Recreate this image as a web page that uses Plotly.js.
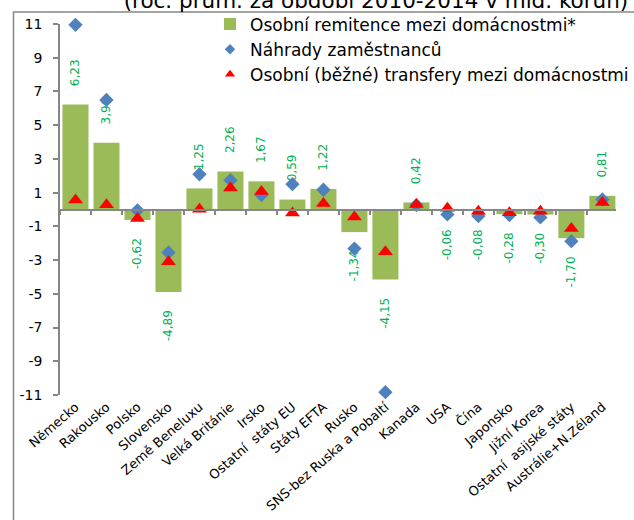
<!DOCTYPE html>
<html>
<head>
<meta charset="utf-8">
<script src="https://cdn.plot.ly/plotly-3.0.1.min.js"></script>
<style>html,body{margin:0;padding:0;background:#fff;}#chart{width:634px;height:520px;}</style>
</head>
<body>
<div id="chart"></div>
<script>
const categories = ["Německo","Rakousko","Polsko","Slovensko","Země Beneluxu","Velká Británie","Irsko","Ostatní  státy EU","Státy EFTA","Rusko","SNS-bez Ruska a Pobaltí","Kanada","USA","Čína","Japonsko","Jižní Korea","Ostatní  asijské státy","Austrálie+N.Zéland"];
const remitence = [6.23, 3.96, -0.62, -4.89, 1.25, 2.26, 1.67, 0.59, 1.22, -1.34, -4.15, 0.42, -0.06, -0.08, -0.28, -0.30, -1.70, 0.81];
const nahrady = [10.95, 6.5, -0.05, -2.55, 2.09, 1.74, 0.86, 1.50, 1.17, -2.32, -10.83, 0.26, -0.29, -0.39, -0.33, -0.47, -1.88, 0.60];
const transfery = [0.56, 0.28, -0.53, -3.10, 0.02, 1.28, 1.06, -0.21, 0.36, -0.45, -2.50, 0.30, 0.07, -0.10, -0.20, -0.10, -1.13, 0.42];
const seriesNames = ["Osobní remitence mezi domácnostmi*", "Náhrady zaměstnanců", "Osobní (běžné) transfery mezi domácnostmi"];
const titleText = "(roč. prům. za období 2010-2014 v mld. korun)";
const yTickVals = [-11, -9, -7, -5, -3, -1, 1, 3, 5, 7, 9, 11];

const pad = "\u00a0\u00a0\u00a0\u00a0";
const barText = remitence.map(v => {
  const s = v.toFixed(2).replace(".", ",");
  return v >= 0 ? pad + s : s + pad;
});

const FONT = "DejaVu Sans, Arial, sans-serif";
const GRAY = "#868686";
const BLUE = "#4F81BD";
const RED = "#FF0000";
const xRange = [-0.5, 17.44];

const traces = [
  {
    type: "bar", name: seriesNames[0], x: categories, y: remitence,
    marker: { color: "#9BBB59" },
    text: barText, textposition: "outside", textangle: -90,
    constraintext: "none", cliponaxis: false,
    textfont: { family: FONT, size: 12, color: "#00B050" },
    hoverinfo: "x+y"
  },
  {
    type: "scatter", mode: "markers", name: seriesNames[1], x: categories, y: nahrady,
    xaxis: "x2", yaxis: "y", cliponaxis: false, showlegend: false,
    marker: { symbol: "diamond", size: 11, color: BLUE }
  },
  {
    type: "scatter", mode: "markers", name: seriesNames[2], x: categories, y: transfery,
    xaxis: "x2", yaxis: "y", cliponaxis: false, showlegend: false,
    marker: { symbol: "triangle-up", size: 13, color: RED }
  },
  {
    type: "scatter", mode: "markers", name: seriesNames[1], x: [null], y: [null],
    xaxis: "x2", yaxis: "y", hoverinfo: "skip",
    marker: { symbol: "diamond", size: 8, color: BLUE }
  },
  {
    type: "scatter", mode: "markers", name: seriesNames[2], x: [null], y: [null],
    xaxis: "x2", yaxis: "y", hoverinfo: "skip",
    marker: { symbol: "triangle-up", size: 9, color: RED }
  }
];

const layout = {
  width: 634, height: 520,
  margin: { l: 60, r: 0, t: 24, b: 125 },
  paper_bgcolor: "#ffffff", plot_bgcolor: "rgba(0,0,0,0)",
  font: { family: FONT, color: "#000000" },
  title: {
    text: titleText, x: 0.593, xanchor: "center", xref: "container",
    y: 1, yanchor: "middle", yref: "container",
    font: { family: FONT, size: 21.5, color: "#000000" }
  },
  bargap: 0.16,
  showlegend: true,
  legend: {
    x: 0.270, xanchor: "left", y: 1.047, yanchor: "top",
    bgcolor: "rgba(0,0,0,0)", borderwidth: 0,
    font: { family: FONT, size: 17, color: "#000000" },
    itemsizing: "trace", traceorder: "normal", tracegroupgap: 0
  },
  xaxis: {
    type: "category", range: xRange, anchor: "y",
    showline: false, ticks: "", showgrid: false, zeroline: false,
    tickangle: -41, tickfont: { family: FONT, size: 13, color: "#000000" },
    ticklabelstandoff: 1
  },
  xaxis2: {
    type: "category", range: xRange, overlaying: "x", anchor: "free", position: 0.5,
    side: "bottom", showline: true, linecolor: GRAY, linewidth: 1.5,
    ticks: "outside", tickson: "boundaries", ticklen: 5, tickcolor: GRAY, tickwidth: 1.5,
    showticklabels: false, showgrid: false, zeroline: false
  },
  yaxis: {
    range: [-11, 11], tickvals: yTickVals, ticktext: yTickVals.map(String),
    showline: true, linecolor: GRAY, linewidth: 1.5,
    ticks: "outside", ticklen: 5, tickcolor: GRAY, tickwidth: 1.5,
    showgrid: false, zeroline: false,
    tickfont: { family: FONT, size: 14, color: "#000000" },
    ticklabelstandoff: 8
  },
  shapes: [
    {
      type: "rect", xref: "paper", yref: "paper",
      x0: (12 - 60) / 574, x1: 1.2, y0: -0.5, y1: (395 - 12) / 371,
      line: { color: GRAY, width: 1.5 }, fillcolor: "rgba(0,0,0,0)", layer: "below"
    }
  ]
};

Plotly.newPlot("chart", traces, layout, { displayModeBar: false, responsive: false });
</script>
</body>
</html>
